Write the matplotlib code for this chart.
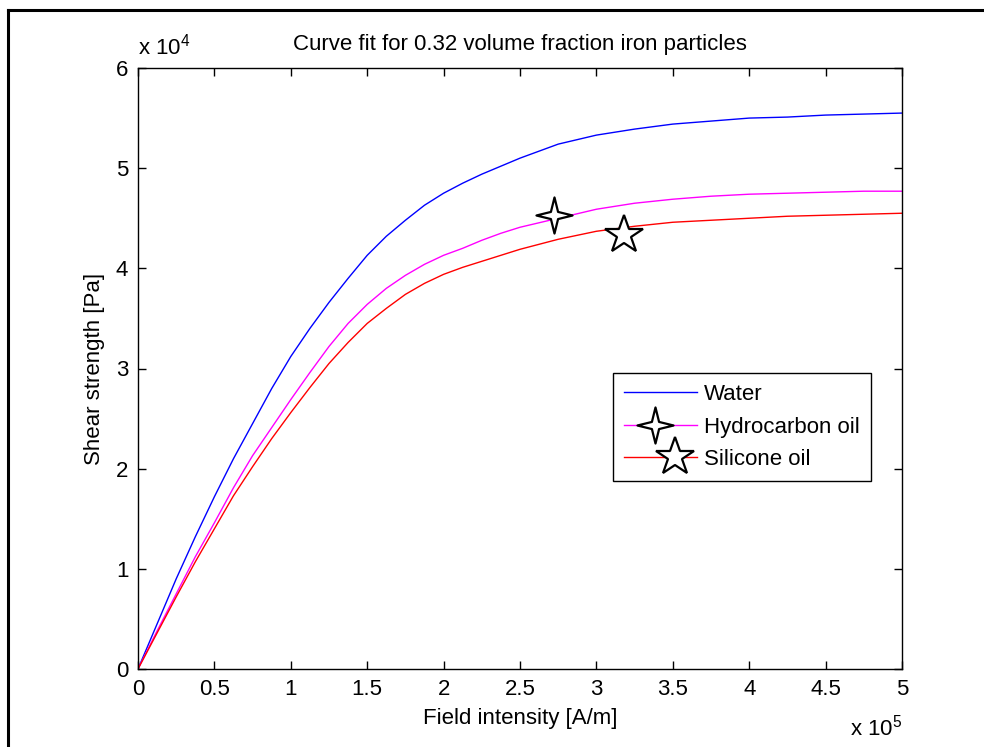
import matplotlib
matplotlib.use("Agg")
import matplotlib.pyplot as plt
from matplotlib.lines import Line2D
from matplotlib.path import Path
from matplotlib.ticker import FuncFormatter, MultipleLocator
from matplotlib.legend_handler import HandlerLine2D

plt.rcParams['font.family'] = ['Liberation Sans', 'DejaVu Sans']
plt.rcParams['mathtext.fontset'] = 'custom'
plt.rcParams['mathtext.rm'] = 'Liberation Sans'

# Field intensity in units of 1e5 A/m, shear strength in units of 1e4 Pa
field = [0, 0.125, 0.25, 0.375, 0.5, 0.625, 0.75, 0.875, 1.0, 1.125, 1.25,
         1.375, 1.5, 1.625, 1.75, 1.875, 2.0, 2.125, 2.25, 2.375, 2.5,
         2.75, 3.0, 3.25, 3.5, 3.75, 4.0, 4.25, 4.5, 4.75, 5.0]
water = [0, 0.45, 0.90, 1.32, 1.72, 2.10, 2.45, 2.80, 3.12, 3.40, 3.66,
         3.90, 4.13, 4.32, 4.48, 4.63, 4.75, 4.85, 4.94, 5.02, 5.10,
         5.24, 5.33, 5.39, 5.44, 5.47, 5.50, 5.51, 5.53, 5.54, 5.55]
hydrocarbon = [0, 0.38, 0.75, 1.12, 1.46, 1.81, 2.13, 2.41, 2.69, 2.96, 3.22,
               3.45, 3.64, 3.80, 3.93, 4.04, 4.13, 4.20, 4.28, 4.35, 4.41,
               4.50, 4.59, 4.65, 4.69, 4.72, 4.74, 4.75, 4.76, 4.77, 4.77]
silicone = [0, 0.36, 0.72, 1.07, 1.40, 1.73, 2.02, 2.30, 2.56, 2.81, 3.05,
            3.26, 3.45, 3.60, 3.74, 3.85, 3.94, 4.01, 4.07, 4.13, 4.19,
            4.29, 4.37, 4.42, 4.46, 4.48, 4.50, 4.52, 4.53, 4.54, 4.55]

# single highlighted points on the oil curves
hydro_point = (2.72, 4.53)
silicone_point = (3.18, 4.33)

series_labels = ['Water', 'Hydrocarbon oil', 'Silicone oil']
title_text = 'Curve fit for 0.32 volume fraction iron particles'
xlabel_text = 'Field intensity [A/m]'
ylabel_text = 'Shear strength [Pa]'

XS, YS = 1e5, 1e4
FS = 16


class ShiftedMarkerHandler(HandlerLine2D):
    """Legend handler that places the single marker off the line centre."""

    def __init__(self, shift, **kw):
        super().__init__(**kw)
        self.shift = shift

    def create_artists(self, legend, orig_handle, xdescent, ydescent,
                       width, height, fontsize, trans):
        artists = super().create_artists(legend, orig_handle, xdescent, ydescent,
                                         width, height, fontsize, trans)
        for a in artists:
            xd = list(a.get_xdata())
            if len(xd) == 3:
                xd[1] = xd[1] + self.shift * width
                a.set_xdata(xd)
        return artists


fig = plt.figure(figsize=(9.84, 7.47), dpi=100)
ax = fig.add_axes([138 / 984, 78 / 747, (902 - 138) / 984, (669 - 68) / 747])

# window frame lines
fig.add_artist(Line2D([8 / 984, 8 / 984], [0, 1 - 10 / 747], transform=fig.transFigure,
                      color='black', lw=2.2, solid_capstyle='projecting'))
fig.add_artist(Line2D([8 / 984, 1], [1 - 10 / 747, 1 - 10 / 747], transform=fig.transFigure,
                      color='black', lw=2.2, solid_capstyle='projecting'))

four_star = Path.unit_regular_star(4, 0.28)
star_kw = dict(mfc='white', mec='black', mew=1.6)

xs = [v * XS for v in field]
ax.plot(xs, [v * YS for v in water], color=(0, 0, 1), lw=1.0)
ax.plot(xs, [v * YS for v in hydrocarbon], color=(1, 0, 1), lw=1.0)
ax.plot(xs, [v * YS for v in silicone], color=(1, 0, 0), lw=1.0)
ax.plot([hydro_point[0] * XS], [hydro_point[1] * YS], linestyle='none',
        marker=four_star, ms=26, **star_kw)
ax.plot([silicone_point[0] * XS], [silicone_point[1] * YS], linestyle='none',
        marker='*', ms=29, **star_kw)

ax.set_xlim(0, 5 * XS)
ax.set_ylim(0, 6 * YS)
ax.xaxis.set_major_locator(MultipleLocator(0.5 * XS))
ax.yaxis.set_major_locator(MultipleLocator(1 * YS))
ax.xaxis.set_major_formatter(FuncFormatter(lambda v, p: '%g' % (v / XS)))
ax.yaxis.set_major_formatter(FuncFormatter(lambda v, p: '%g' % (v / YS)))
ax.tick_params(direction='in', length=6, width=1.0, top=True, right=True,
               labelsize=FS, pad=7)
for s in ax.spines.values():
    s.set_linewidth(1.0)

ax.set_title(title_text, fontsize=FS, pad=13)
ax.set_xlabel(xlabel_text, fontsize=FS, labelpad=6)
ax.set_ylabel(ylabel_text, fontsize=FS, labelpad=8)

ax.text(0.0, 1.014, r'x $\mathregular{10^{4}}$', transform=ax.transAxes,
        fontsize=FS, ha='left', va='bottom')
ax.text(1.0, -0.076, r'x $\mathregular{10^{5}}$', transform=ax.transAxes,
        fontsize=FS, ha='right', va='top')

h_water = Line2D([], [], color=(0, 0, 1), lw=1.0)
h_hydro = Line2D([], [], color=(1, 0, 1), lw=1.0, marker=four_star, ms=26, **star_kw)
h_sil = Line2D([], [], color=(1, 0, 0), lw=1.0, marker='*', ms=29, **star_kw)
leg = ax.legend([h_water, h_hydro, h_sil], series_labels, loc='upper left',
                bbox_to_anchor=((613 - 138) / 764, 1 - (373 - 68) / 601),
                fontsize=FS, frameon=True, fancybox=False, edgecolor='black',
                framealpha=1, handlelength=3.3, handletextpad=0.3,
                labelspacing=0.52, borderpad=0.5, borderaxespad=0, numpoints=1,
                handler_map={h_hydro: ShiftedMarkerHandler(-0.075),
                             h_sil: ShiftedMarkerHandler(0.2)})
leg.get_frame().set_linewidth(1.0)

fig.savefig('out.png', dpi=100)
